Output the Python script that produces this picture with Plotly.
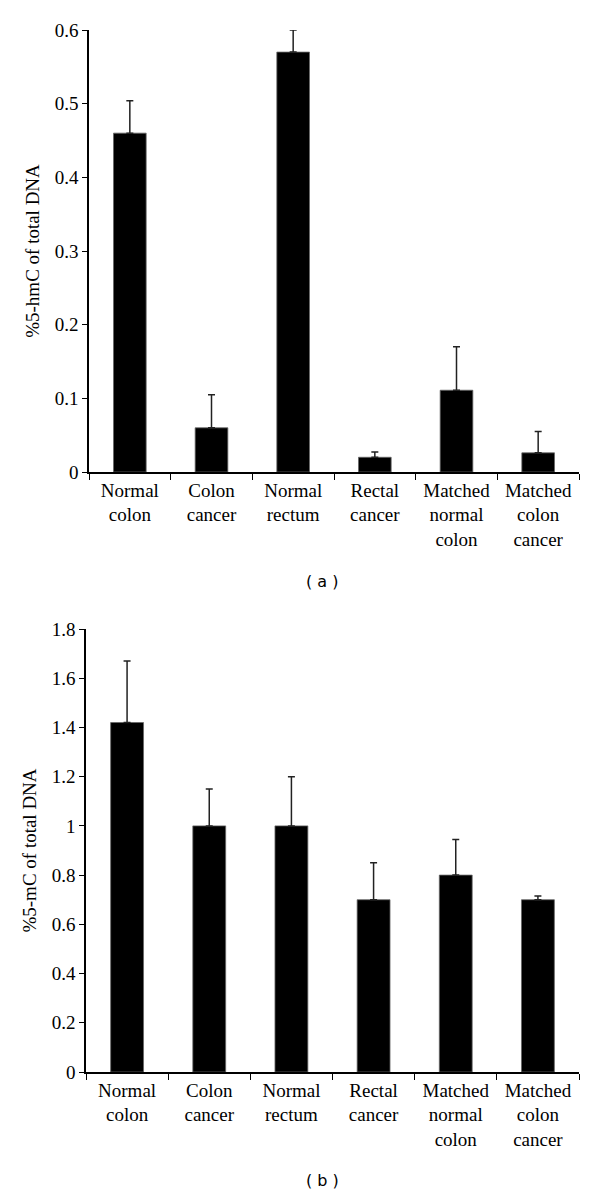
import plotly.graph_objects as go

# categories shared by both panels
labels = ["Normal<br>colon", "Colon<br>cancer", "Normal<br>rectum", "Rectal<br>cancer",
          "Matched<br>normal<br>colon", "Matched<br>colon<br>cancer"]
cats = ["Normal colon", "Colon cancer", "Normal rectum", "Rectal cancer",
        "Matched normal colon", "Matched colon cancer"]

# panel (a): %5-hmC
hmc = [0.46, 0.06, 0.57, 0.02, 0.111, 0.026]
hmc_err = [0.044, 0.045, 0.03, 0.007, 0.059, 0.029]

# panel (b): %5-mC
mc = [1.42, 1.0, 1.0, 0.70, 0.80, 0.70]
mc_err = [0.25, 0.15, 0.20, 0.15, 0.145, 0.015]

serif = "Liberation Serif, Times New Roman, serif"
W, H = 600, 1200
OFF = 8  # page body margin shifts the figure by this much


def px_x(v):
    return (v - OFF) / W


def px_y(v):
    return 1 - (v - OFF) / H


def bar_trace(y, err, xa, ya):
    return go.Bar(
        x=cats, y=y, xaxis=xa, yaxis=ya, width=0.4,
        marker=dict(color="black", line=dict(color="#666", width=0.8)),
        error_y=dict(type="data", array=err, symmetric=False,
                     arrayminus=[0] * len(err), color="#222",
                     thickness=1.5, width=3.5),
        showlegend=False, hoverinfo="x+y",
    )


fig = go.Figure()
fig.add_trace(bar_trace(hmc, hmc_err, "x", "y"))
fig.add_trace(bar_trace(mc, mc_err, "x2", "y2"))

xcommon = dict(
    type="category", tickmode="array", tickvals=cats, ticktext=labels,
    tickson="boundaries", ticks="outside", ticklen=6, tickwidth=1.2,
    tickcolor="black", showline=True, linecolor="black", linewidth=1.5,
    showgrid=False, zeroline=False, tickangle=0, automargin=False,
    tickfont=dict(family=serif, size=19, color="black"), fixedrange=True,
)
ycommon = dict(
    ticks="outside", ticklen=5, tickwidth=1.2, tickcolor="black",
    showline=True, linecolor="black", linewidth=1.5, showgrid=False,
    zeroline=False, automargin=False,
    tickfont=dict(family=serif, size=19, color="black"),
    title_font=dict(family=serif, size=19, color="black"), fixedrange=True,
)

fig.update_layout(
    width=W, height=H, margin=dict(l=0, r=0, t=0, b=0),
    paper_bgcolor="white", plot_bgcolor="white", bargap=0.6,
    font=dict(family=serif, color="black"),
    xaxis=dict(domain=[px_x(89), px_x(579)], anchor="y", **xcommon),
    xaxis2=dict(domain=[px_x(86), px_x(579)], anchor="y2", **xcommon),
    yaxis=dict(domain=[px_y(472), px_y(30)], anchor="x", range=[0, 0.6],
               dtick=0.1, title_text="%5-hmC of total DNA", title_standoff=10,
               **ycommon),
    yaxis2=dict(domain=[px_y(1072), px_y(629)], anchor="x2", range=[0, 1.8],
                dtick=0.2, title_text="%5-mC of total DNA", title_standoff=10,
                **ycommon),
    annotations=[
        dict(text="( a )", x=px_x(322), y=px_y(582), xref="paper", yref="paper",
             xanchor="center", yanchor="middle", showarrow=False,
             font=dict(family="DejaVu Sans", size=16, color="black")),
        dict(text="( b )", x=px_x(322), y=px_y(1180), xref="paper", yref="paper",
             xanchor="center", yanchor="middle", showarrow=False,
             font=dict(family="DejaVu Sans", size=16, color="black")),
    ],
)

fig.write_html("out.html")
